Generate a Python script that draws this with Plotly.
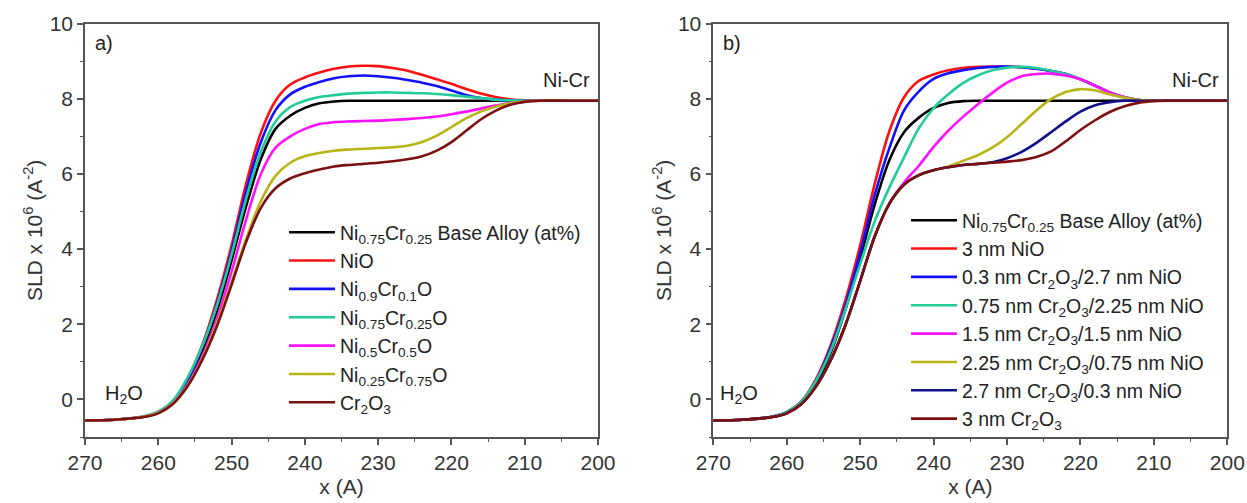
import plotly.graph_objects as go

# ---------------- data ----------------
x_pos = [270, 266, 262, 260, 258, 256, 254, 252, 250, 248, 246, 244, 242, 240, 238, 236,
         234, 232, 230, 228, 226, 224, 222, 220, 218, 216, 214, 212, 210, 208, 204, 200]

# panel a
a_names = ["Ni<sub>0.75</sub>Cr<sub>0.25</sub> Base Alloy (at%)", "NiO",
           "Ni<sub>0.9</sub>Cr<sub>0.1</sub>O", "Ni<sub>0.75</sub>Cr<sub>0.25</sub>O",
           "Ni<sub>0.5</sub>Cr<sub>0.5</sub>O", "Ni<sub>0.25</sub>Cr<sub>0.75</sub>O",
           "Cr<sub>2</sub>O<sub>3</sub>"]
a_base = [-0.56, -0.54, -0.46, -0.35, -0.08, 0.45, 1.25, 2.35, 3.7, 5.15, 6.4, 7.2, 7.55, 7.76, 7.88, 7.93,
          7.95, 7.95, 7.95, 7.95, 7.95, 7.95, 7.95, 7.95, 7.95, 7.95, 7.95, 7.95, 7.95, 7.95, 7.95, 7.95]
a_nio = [-0.56, -0.54, -0.46, -0.34, -0.05, 0.55, 1.45, 2.65, 4.1, 5.75, 7.1, 7.95, 8.38, 8.57, 8.7, 8.8,
         8.86, 8.88, 8.87, 8.82, 8.75, 8.64, 8.52, 8.4, 8.26, 8.14, 8.05, 7.99, 7.96, 7.95, 7.95, 7.95]
a_ni90 = [-0.56, -0.54, -0.46, -0.34, -0.06, 0.52, 1.4, 2.55, 3.95, 5.55, 6.85, 7.7, 8.12, 8.32, 8.45, 8.55,
          8.6, 8.62, 8.6, 8.56, 8.5, 8.43, 8.34, 8.22, 8.1, 8.02, 7.98, 7.96, 7.95, 7.95, 7.95, 7.95]
a_ni75 = [-0.56, -0.54, -0.45, -0.32, -0.03, 0.58, 1.42, 2.5, 3.85, 5.35, 6.6, 7.4, 7.78, 7.95, 8.05, 8.1,
          8.14, 8.16, 8.17, 8.17, 8.16, 8.15, 8.13, 8.1, 8.06, 8.02, 7.98, 7.96, 7.95, 7.95, 7.95, 7.95]
a_ni50 = [-0.56, -0.54, -0.46, -0.35, -0.1, 0.4, 1.15, 2.15, 3.4, 4.8, 6.0, 6.7, 7.0, 7.2, 7.33, 7.38,
          7.4, 7.41, 7.42, 7.44, 7.46, 7.49, 7.53, 7.59, 7.66, 7.74, 7.82, 7.89, 7.93, 7.95, 7.95, 7.95]
a_ni25 = [-0.56, -0.54, -0.46, -0.36, -0.11, 0.37, 1.08, 2.02, 3.12, 4.28, 5.28, 5.95, 6.3, 6.47, 6.56, 6.62,
          6.65, 6.67, 6.69, 6.71, 6.75, 6.85, 7.02, 7.25, 7.48, 7.66, 7.79, 7.88, 7.93, 7.95, 7.95, 7.95]
a_cr2o3 = [-0.56, -0.54, -0.47, -0.37, -0.12, 0.35, 1.05, 1.95, 3.05, 4.2, 5.1, 5.62, 5.88, 6.02, 6.12, 6.2,
           6.24, 6.27, 6.3, 6.34, 6.39, 6.47, 6.62, 6.85, 7.15, 7.45, 7.68, 7.84, 7.92, 7.95, 7.95, 7.95]

# panel b
b_names = ["Ni<sub>0.75</sub>Cr<sub>0.25</sub> Base Alloy (at%)", "3 nm NiO",
           "0.3 nm Cr<sub>2</sub>O<sub>3</sub>/2.7 nm NiO", "0.75 nm Cr<sub>2</sub>O<sub>3</sub>/2.25 nm NiO",
           "1.5 nm Cr<sub>2</sub>O<sub>3</sub>/1.5 nm NiO", "2.25 nm Cr<sub>2</sub>O<sub>3</sub>/0.75 nm NiO",
           "2.7 nm Cr<sub>2</sub>O<sub>3</sub>/0.3 nm NiO", "3 nm Cr<sub>2</sub>O<sub>3</sub>"]
b_base = [-0.56, -0.54, -0.46, -0.35, -0.08, 0.45, 1.25, 2.4, 3.75, 5.2, 6.38, 7.12, 7.5, 7.76, 7.89, 7.94,
          7.95, 7.95, 7.95, 7.95, 7.95, 7.95, 7.95, 7.95, 7.95, 7.95, 7.95, 7.95, 7.95, 7.95, 7.95, 7.95]
b_nio = [-0.56, -0.54, -0.46, -0.34, -0.05, 0.55, 1.45, 2.65, 4.1, 5.75, 7.15, 8.05, 8.48, 8.65, 8.76, 8.82,
         8.85, 8.86, 8.86, 8.84, 8.8, 8.74, 8.66, 8.52, 8.35, 8.17, 8.04, 7.97, 7.95, 7.95, 7.95, 7.95]
b_03 = [-0.56, -0.54, -0.46, -0.34, -0.06, 0.5, 1.38, 2.5, 3.9, 5.45, 6.7, 7.7, 8.2, 8.53, 8.68, 8.76,
        8.82, 8.85, 8.86, 8.84, 8.8, 8.74, 8.66, 8.52, 8.35, 8.17, 8.04, 7.97, 7.95, 7.95, 7.95, 7.95]
b_075 = [-0.56, -0.54, -0.46, -0.34, -0.06, 0.5, 1.3, 2.4, 3.6, 4.75, 5.65, 6.45, 7.22, 7.75, 8.12, 8.42,
         8.62, 8.76, 8.83, 8.85, 8.82, 8.75, 8.66, 8.52, 8.35, 8.17, 8.04, 7.97, 7.95, 7.95, 7.95, 7.95]
b_15 = [-0.56, -0.54, -0.47, -0.37, -0.12, 0.35, 1.05, 1.98, 3.15, 4.35, 5.22, 5.78, 6.22, 6.72, 7.15, 7.52,
        7.85, 8.16, 8.43, 8.6, 8.66, 8.67, 8.62, 8.52, 8.35, 8.17, 8.04, 7.97, 7.95, 7.95, 7.95, 7.95]
b_225 = [-0.56, -0.54, -0.47, -0.37, -0.12, 0.35, 1.05, 1.98, 3.15, 4.35, 5.22, 5.72, 5.97, 6.1, 6.2, 6.35,
         6.5, 6.7, 6.98, 7.33, 7.69, 7.99, 8.18, 8.26, 8.22, 8.12, 8.03, 7.97, 7.95, 7.95, 7.95, 7.95]
b_27 = [-0.56, -0.54, -0.47, -0.37, -0.12, 0.35, 1.05, 1.98, 3.15, 4.35, 5.22, 5.72, 5.97, 6.1, 6.18, 6.24,
        6.27, 6.31, 6.42, 6.59, 6.83, 7.11, 7.4, 7.66, 7.83, 7.91, 7.95, 7.95, 7.95, 7.95, 7.95, 7.95]
b_cr2o3 = [-0.56, -0.54, -0.47, -0.37, -0.12, 0.35, 1.05, 1.98, 3.15, 4.35, 5.22, 5.72, 5.97, 6.1, 6.18, 6.24,
           6.27, 6.3, 6.33, 6.37, 6.45, 6.6, 6.87, 7.17, 7.43, 7.65, 7.8, 7.9, 7.94, 7.95, 7.95, 7.95]

x_ticks = [270, 260, 250, 240, 230, 220, 210, 200]
y_ticks = [0, 2, 4, 6, 8, 10]

a_colors = ["#000000", "#ff1010", "#1010ff", "#22cc99", "#ff10ff", "#b8b414", "#7a1010"]
b_colors = ["#000000", "#ff1010", "#1010ff", "#22cc99", "#ff10ff", "#b8b414", "#10108a", "#7a1010"]

a_series = [a_base, a_nio, a_ni90, a_ni75, a_ni50, a_ni25, a_cr2o3]
b_series = [b_base, b_nio, b_03, b_075, b_15, b_225, b_27, b_cr2o3]

# ---------------- figure ----------------
W, H = 1247, 503
FONT = "Liberation Sans, Arial, sans-serif"

fig = go.Figure()
for name, ys, col in zip(a_names, a_series, a_colors):
    fig.add_trace(go.Scatter(x=x_pos, y=ys, name=name, mode="lines",
                             line=dict(color=col, width=2.6, shape="spline", smoothing=0.9),
                             xaxis="x", yaxis="y", legend="legend"))
for name, ys, col in zip(b_names, b_series, b_colors):
    fig.add_trace(go.Scatter(x=x_pos, y=ys, name=name, mode="lines",
                             line=dict(color=col, width=2.6, shape="spline", smoothing=0.9),
                             xaxis="x2", yaxis="y2", legend="legend2"))

def px_x(p):
    return p / W

def px_y(p):
    return (H - p) / H

axis_common = dict(
    showline=True, linecolor="#555555", linewidth=1.6, mirror=True,
    ticks="outside", ticklen=6, tickwidth=1.6, tickcolor="#555555",
    showgrid=False, zeroline=False,
    tickfont=dict(family=FONT, size=21, color="#333333"),
)
xaxis_common = dict(axis_common, range=[270, 200], tickvals=x_ticks,
                    minor=dict(dtick=5, ticks="outside", ticklen=3, tickwidth=1.4, tickcolor="#555555"),
                    title=dict(text="x (A)", font=dict(family=FONT, size=21, color="#333333"), standoff=6))
yaxis_common = dict(axis_common, range=[-1, 10], tickvals=y_ticks,
                    minor=dict(dtick=1, ticks="outside", ticklen=3, tickwidth=1.4, tickcolor="#555555"),
                    title=dict(text="SLD x 10<sup>6</sup> (A<sup>-2</sup>)",
                               font=dict(family=FONT, size=21, color="#333333"), standoff=1))

ydom = [px_y(437), px_y(23.7)]
fig.update_layout(
    width=W, height=H,
    margin=dict(l=0, r=0, t=0, b=0, autoexpand=False),
    paper_bgcolor="white", plot_bgcolor="white",
    font=dict(family=FONT, color="#222222"),
    xaxis=dict(xaxis_common, domain=[px_x(85), px_x(598)], anchor="y", automargin=False),
    yaxis=dict(yaxis_common, domain=ydom, anchor="x", automargin=False),
    xaxis2=dict(xaxis_common, domain=[px_x(713.3), px_x(1227.3)], anchor="y2", automargin=False),
    yaxis2=dict(yaxis_common, domain=ydom, anchor="x2", automargin=False),
    legend=dict(x=px_x(284), y=px_y(213), xanchor="left", yanchor="top",
                bgcolor="rgba(0,0,0,0)", borderwidth=0, itemwidth=46,
                font=dict(family=FONT, size=19.5, color="#222222"), tracegroupgap=0),
    legend2=dict(x=px_x(906), y=px_y(201), xanchor="left", yanchor="top",
                 bgcolor="rgba(0,0,0,0)", borderwidth=0, itemwidth=46,
                 font=dict(family=FONT, size=19.5, color="#222222"), tracegroupgap=0),
    showlegend=True,
)

ann_font = dict(family=FONT, size=20, color="#222222")
for xr, yr in (("x", "y"), ("x2", "y2")):
    fig.add_annotation(x=268.9, y=9.49, xref=xr, yref=yr, text="a)" if xr == "x" else "b)",
                       showarrow=False, xanchor="left", yanchor="middle", font=ann_font)
    fig.add_annotation(x=200.8, y=8.5, xref=xr, yref=yr, text="Ni-Cr",
                       showarrow=False, xanchor="right", yanchor="middle", font=ann_font)
fig.add_annotation(x=267.5, y=0.12, xref="x", yref="y", text="H<sub>2</sub>O",
                   showarrow=False, xanchor="left", yanchor="middle", font=ann_font)
fig.add_annotation(x=269.4, y=0.12, xref="x2", yref="y2", text="H<sub>2</sub>O",
                   showarrow=False, xanchor="left", yanchor="middle", font=ann_font)

fig.write_html("out.html", config={"displayModeBar": False},
               post_script="document.body.style.margin='0';document.body.style.padding='0';")
